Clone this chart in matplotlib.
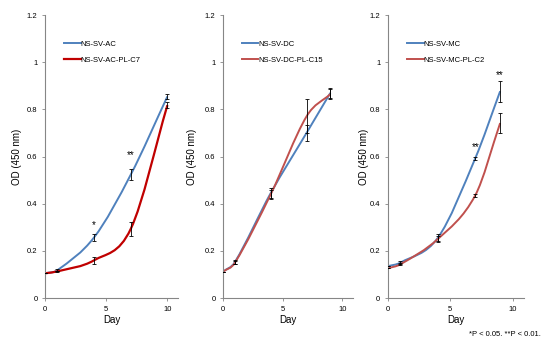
import matplotlib.pyplot as plt
from matplotlib.path import Path
from matplotlib.patches import PathPatch
import numpy as np

# panel 1: AC
days_ac = [0, 1, 4, 7, 10]
ac = [0.105, 0.118, 0.257, 0.523, 0.855]
ac_err = [0.0, 0.004, 0.014, 0.024, 0.012]
ac_c7 = [0.105, 0.113, 0.160, 0.293, 0.818]
ac_c7_err = [0.0, 0.003, 0.016, 0.028, 0.012]

# panel 2: DC
days_dc = [0, 1, 4, 7, 9]
dc = [0.112, 0.153, 0.445, 0.700, 0.870]
dc_err = [0.0, 0.010, 0.022, 0.035, 0.022]
dc_c15 = [0.112, 0.150, 0.440, 0.770, 0.865]
dc_c15_err = [0.0, 0.006, 0.020, 0.072, 0.020]

# panel 3: MC
days_mc = [0, 1, 4, 7, 9]
mc = [0.135, 0.150, 0.255, 0.592, 0.877]
mc_err = [0.0, 0.006, 0.015, 0.005, 0.045]
mc_c2 = [0.126, 0.143, 0.250, 0.435, 0.742]
mc_c2_err = [0.0, 0.005, 0.012, 0.005, 0.043]

panels = [
    dict(days=days_ac, series=[("NS-SV-AC", ac, ac_err, "#4F81BD", 1.4),
                               ("NS-SV-AC-PL-C7", ac_c7, ac_c7_err, "#C00000", 1.6)],
         stars=[(4, 0.31, "*"), (7, 0.605, "**")],
         rect=[0.083, 0.126, 0.245, 0.83], ylabel_x=17),
    dict(days=days_dc, series=[("NS-SV-DC", dc, dc_err, "#4F81BD", 1.4),
                               ("NS-SV-DC-PL-C15", dc_c15, dc_c15_err, "#C0504D", 1.4)],
         stars=[],
         rect=[0.41, 0.126, 0.239, 0.83], ylabel_x=192),
    dict(days=days_mc, series=[("NS-SV-MC", mc, mc_err, "#4F81BD", 1.4),
                               ("NS-SV-MC-PL-C2", mc_c2, mc_c2_err, "#C0504D", 1.4)],
         stars=[(7, 0.64, "**"), (9, 0.945, "**")],
         rect=[0.713, 0.126, 0.25, 0.83], ylabel_x=364),
]


def smooth_path(xs, ys):
    # smoothed line as cubic Hermite segments (Bezier), slopes from neighbours
    xs = np.asarray(xs, float)
    ys = np.asarray(ys, float)
    n = len(xs)
    m = np.zeros(n)
    m[0] = (ys[1] - ys[0]) / (xs[1] - xs[0])
    m[-1] = (ys[-1] - ys[-2]) / (xs[-1] - xs[-2])
    for i in range(1, n - 1):
        m[i] = (ys[i + 1] - ys[i - 1]) / (xs[i + 1] - xs[i - 1])
    verts = [(xs[0], ys[0])]
    codes = [Path.MOVETO]
    for i in range(n - 1):
        h = xs[i + 1] - xs[i]
        verts += [(xs[i] + h / 3, ys[i] + m[i] * h / 3),
                  (xs[i + 1] - h / 3, ys[i + 1] - m[i + 1] * h / 3),
                  (xs[i + 1], ys[i + 1])]
        codes += [Path.CURVE4] * 3
    return Path(verts, codes)


fig = plt.figure(figsize=(5.44, 3.41), dpi=100)
plt.rcParams['font.family'] = ['Liberation Sans', 'DejaVu Sans']

for pn in panels:
    ax = fig.add_axes(pn["rect"])
    ax.set_xlim(0, 10.9)
    ax.set_ylim(0, 1.2)
    for s in ["top", "right"]:
        ax.spines[s].set_visible(False)
    for s in ["left", "bottom"]:
        ax.spines[s].set_color("#868686")
        ax.spines[s].set_linewidth(0.8)
    ax.set_xticks([0, 5, 10])
    ax.set_yticks([0, 0.2, 0.4, 0.6, 0.8, 1.0, 1.2])
    ax.set_yticklabels(["0", "0.2", "0.4", "0.6", "0.8", "1", "1.2"])
    ax.tick_params(labelsize=5.5, length=2.5, width=0.6, color="#868686", pad=3)
    ax.set_xlabel("Day", fontsize=7, labelpad=2)
    fig.text(pn["ylabel_x"] / 544, 1 - 157 / 341, "OD (450 nm)", rotation=90,
             fontsize=7, ha="center", va="center")

    for label, vals, err, color, lw in pn["series"]:
        patch = PathPatch(smooth_path(pn["days"], vals), facecolor="none",
                          edgecolor=color, lw=lw, zorder=2)
        ax.add_patch(patch)
        ax.errorbar(pn["days"], vals, yerr=err, fmt="none", ecolor="black",
                    elinewidth=0.6, capsize=1.6, capthick=0.6, zorder=3)
        ax.plot([], [], color=color, lw=lw, label=label)

    ax.legend(loc="upper left", bbox_to_anchor=(0.09, 0.935), frameon=False,
              fontsize=5.5, handlelength=2.2, handletextpad=0.0,
              labelspacing=1.2)

    for x, y, t in pn["stars"]:
        ax.text(x, y, t, fontsize=7, ha="center", va="center")

fig.text(0.995, 0.01, "*P < 0.05. **P < 0.01.", fontsize=5.5, ha="right", va="bottom")

fig.savefig("out.png", dpi=100)
